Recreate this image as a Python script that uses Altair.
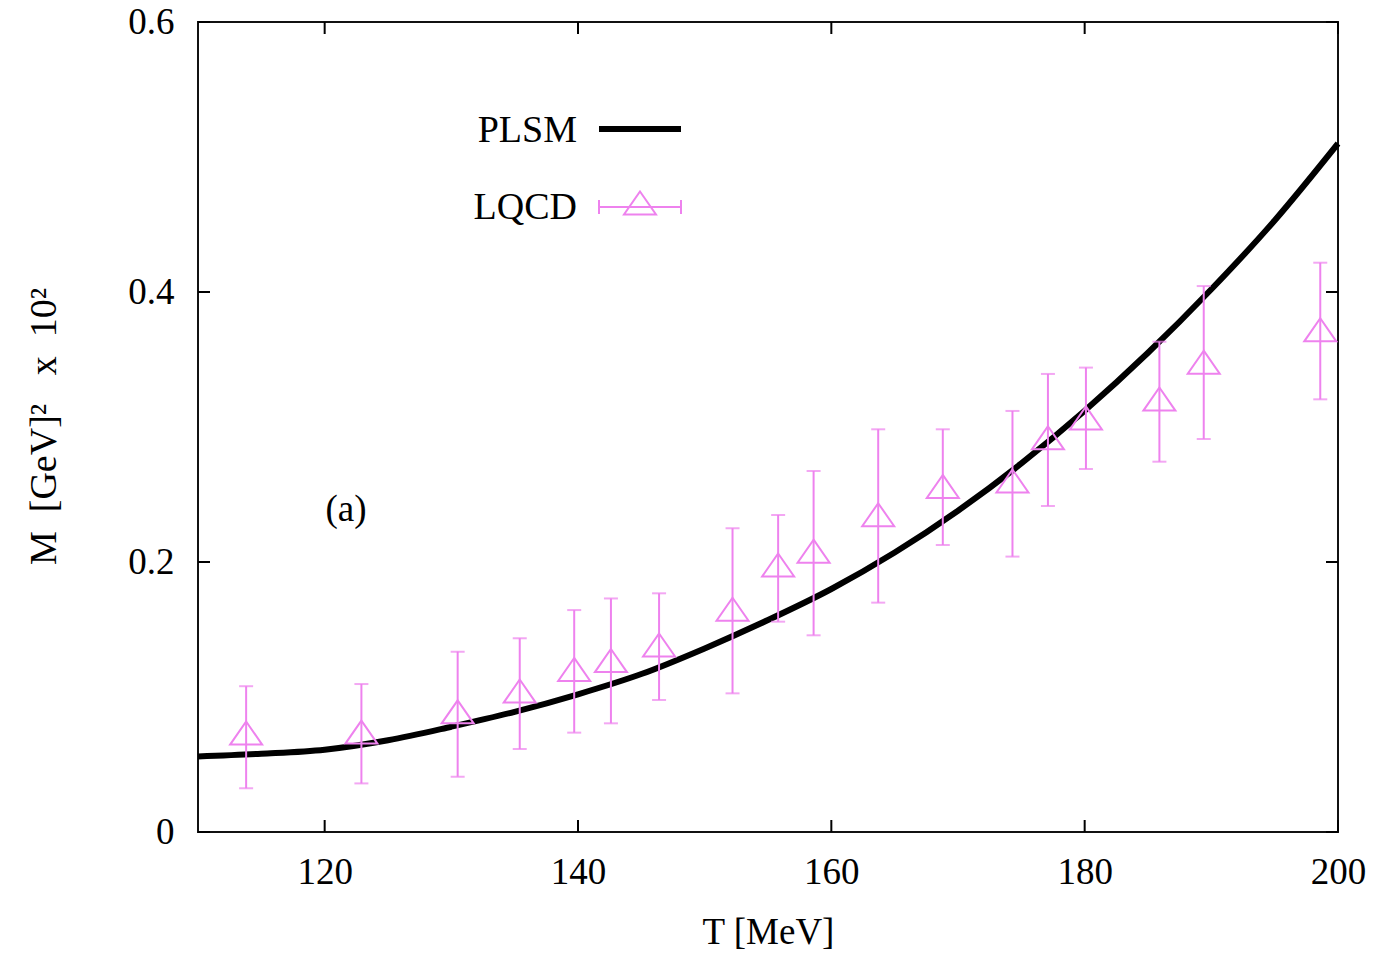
import altair as alt
import pandas as pd

# ---------------- data ----------------
# PLSM curve
plsm_T = [110, 115, 120, 125, 130, 135, 140, 145, 150, 155, 160, 165, 170, 175, 180, 185, 190, 195, 200]
plsm_M = [0.056, 0.058, 0.061, 0.068, 0.078, 0.089, 0.102, 0.117, 0.136, 0.157, 0.180, 0.207, 0.238,
          0.273, 0.312, 0.355, 0.402, 0.453, 0.510]

# LQCD points with error bars
lqcd_T = [113.8, 122.9, 130.5, 135.4, 139.7, 142.6, 146.4, 152.2, 155.8, 158.6, 163.7, 168.8, 174.3,
          177.1, 180.1, 185.9, 189.4, 198.6]
lqcd_M = [0.0733, 0.074, 0.089, 0.1044, 0.1204, 0.127, 0.1385, 0.165, 0.1978, 0.208, 0.235, 0.256, 0.26,
          0.292, 0.3067, 0.3207, 0.348, 0.372]
lqcd_lo = [0.0324, 0.036, 0.041, 0.0615, 0.0736, 0.0805, 0.0978, 0.1027, 0.1558, 0.1457, 0.1699, 0.2126,
           0.204, 0.2415, 0.2689, 0.2743, 0.2911, 0.3205]
lqcd_hi = [0.108, 0.1096, 0.1336, 0.1435, 0.1644, 0.173, 0.1768, 0.225, 0.2348, 0.2674, 0.2983, 0.2983,
           0.3119, 0.3393, 0.344, 0.3632, 0.4044, 0.4217]

x_ticks = [120, 140, 160, 180, 200]
y_ticks = [0, 0.2, 0.4, 0.6]
legend_labels = ["PLSM", "LQCD"]
panel_label = "(a)"
x_title = "T [MeV]"
NB = "\u00a0"
y_title = "M" + NB * 2 + "[GeV]²" + NB * 3 + "x" + NB * 2 + "10²"

# ---------------- tables ----------------
curve = pd.DataFrame({"T": plsm_T, "M": plsm_M})
pts = pd.DataFrame({"T": lqcd_T, "M": lqcd_M, "lo": lqcd_lo, "hi": lqcd_hi})
xt = pd.DataFrame({"T": x_ticks})
yt = pd.DataFrame({"M": y_ticks})
one = pd.DataFrame({"k": [0]})

FONT = "Liberation Serif"
VIOLET = "#ee82ee"
W, H = 1140, 810
TRI = "M0,-0.72L1,0.72L-1,0.72Z"

xscale = alt.Scale(domain=[110, 200], nice=False, zero=False)
yscale = alt.Scale(domain=[0, 0.6], nice=False, zero=False)

xaxis = alt.Axis(values=x_ticks, title=x_title, ticks=False, tickSize=0, domain=False, grid=False,
                 labelFont=FONT, labelFontSize=37, labelColor="black", labelPadding=22,
                 labelFlush=False, labelOverlap=False,
                 titleFont=FONT, titleFontSize=37, titleFontWeight="normal", titleColor="black",
                 titleY=111, titleBaseline="alphabetic")
yaxis = alt.Axis(values=y_ticks, title=y_title, ticks=False, tickSize=0, domain=False, grid=False,
                 labelFont=FONT, labelFontSize=37, labelColor="black", labelPadding=24,
                 labelExpr="datum.value == 0 ? '0' : format(datum.value, '.1f')",
                 labelFlush=False, labelOverlap=False,
                 titleFont=FONT, titleFontSize=38, titleFontWeight="normal", titleColor="black",
                 titleX=-143, titleY=404, titleAngle=270, titleAlign="center",
                 titleBaseline="alphabetic")

X = alt.X("T:Q", scale=xscale, axis=xaxis)
Y = alt.Y("M:Q", scale=yscale, axis=yaxis)

line = alt.Chart(curve).mark_line(color="black", strokeWidth=6, interpolate="monotone").encode(x=X, y=Y)

bars = alt.Chart(pts).mark_rule(color=VIOLET, strokeWidth=2).encode(
    x=alt.X("T:Q", scale=xscale), y=alt.Y("lo:Q", scale=yscale), y2="hi:Q")
cap_lo = alt.Chart(pts).mark_tick(color=VIOLET, orient="horizontal", size=14, thickness=2).encode(
    x=alt.X("T:Q", scale=xscale), y=alt.Y("lo:Q", scale=yscale))
cap_hi = alt.Chart(pts).mark_tick(color=VIOLET, orient="horizontal", size=14, thickness=2).encode(
    x=alt.X("T:Q", scale=xscale), y=alt.Y("hi:Q", scale=yscale))
tri = alt.Chart(pts).mark_point(shape=TRI, size=1024, filled=False, color=VIOLET, strokeWidth=2,
                                opacity=1).encode(
    x=alt.X("T:Q", scale=xscale), y=alt.Y("M:Q", scale=yscale))

# inward ticks on all four sides
xt_bot = alt.Chart(xt).mark_rule(color="black", strokeWidth=2).encode(
    x=alt.X("T:Q", scale=xscale), y=alt.value(H), y2=alt.value(H - 12))
xt_top = alt.Chart(xt).mark_rule(color="black", strokeWidth=2).encode(
    x=alt.X("T:Q", scale=xscale), y=alt.value(0), y2=alt.value(12))
yt_left = alt.Chart(yt).mark_rule(color="black", strokeWidth=2).encode(
    y=alt.Y("M:Q", scale=yscale), x=alt.value(0), x2=alt.value(12))
yt_right = alt.Chart(yt).mark_rule(color="black", strokeWidth=2).encode(
    y=alt.Y("M:Q", scale=yscale), x=alt.value(W), x2=alt.value(W - 12))

# legend
leg_txt1 = alt.Chart(one).mark_text(font=FONT, fontSize=38, align="right", baseline="alphabetic",
                                    color="black").encode(
    x=alt.value(379), y=alt.value(120), text=alt.value(legend_labels[0]))
leg_txt2 = alt.Chart(one).mark_text(font=FONT, fontSize=38, align="right", baseline="alphabetic",
                                    color="black").encode(
    x=alt.value(379), y=alt.value(197), text=alt.value(legend_labels[1]))
leg_line = alt.Chart(one).mark_rule(color="black", strokeWidth=6).encode(
    x=alt.value(401), x2=alt.value(483), y=alt.value(107))
leg_bar = alt.Chart(one).mark_rule(color=VIOLET, strokeWidth=2).encode(
    x=alt.value(401), x2=alt.value(483), y=alt.value(185))
leg_cap1 = alt.Chart(one).mark_rule(color=VIOLET, strokeWidth=2).encode(
    x=alt.value(401), y=alt.value(178), y2=alt.value(192))
leg_cap2 = alt.Chart(one).mark_rule(color=VIOLET, strokeWidth=2).encode(
    x=alt.value(483), y=alt.value(178), y2=alt.value(192))
leg_tri = alt.Chart(one).mark_point(shape=TRI, size=1024, filled=False, color=VIOLET, strokeWidth=2,
                                    opacity=1).encode(x=alt.value(442), y=alt.value(181))

lab = alt.Chart(one).mark_text(font=FONT, fontSize=37, align="center", baseline="middle",
                               color="black").encode(
    x=alt.value(148), y=alt.value(488), text=alt.value(panel_label))

chart = alt.layer(
    line, bars, cap_lo, cap_hi, tri,
    xt_bot, xt_top, yt_left, yt_right,
    leg_txt1, leg_txt2, leg_line, leg_bar, leg_cap1, leg_cap2, leg_tri, lab
).properties(
    width=W, height=H,
    padding={"left": 198, "top": 22, "right": 40, "bottom": 121},
    autosize=alt.AutoSizeParams(type="none"),
    background="white",
).configure_view(stroke="#111111", strokeWidth=2)

chart.save("out.html", embed_options={"renderer": "svg", "actions": False})
